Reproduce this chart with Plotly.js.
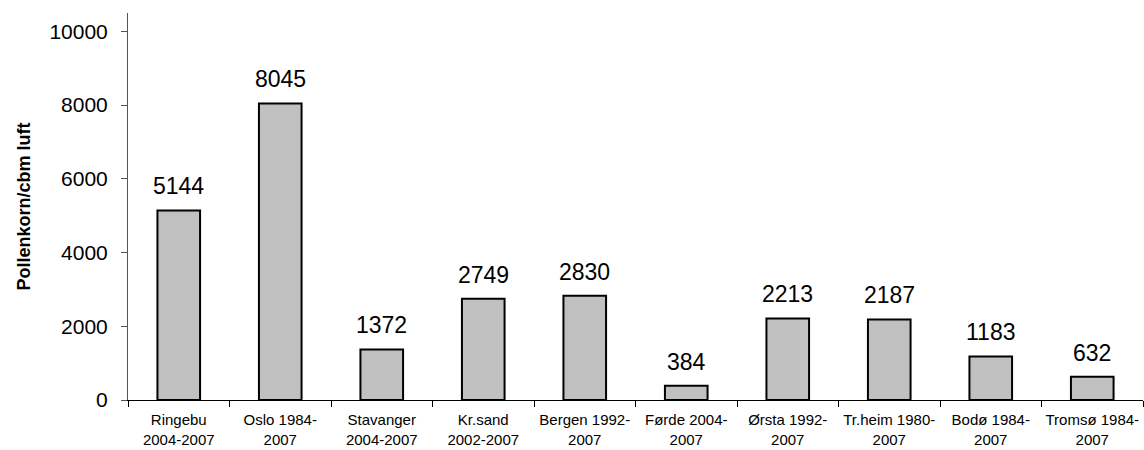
<!DOCTYPE html>
<html><head><meta charset="utf-8">
<script src="https://cdn.plot.ly/plotly-3.0.1.min.js"></script>
<style>body{margin:0;background:#fff}#c{width:1144px;height:450px}</style>
</head><body><div id="c"></div>
<script>
const categories = ["Ringebu<br>2004-2007","Oslo 1984-<br>2007","Stavanger<br>2004-2007","Kr.sand<br>2002-2007","Bergen 1992-<br>2007","Førde 2004-<br>2007","Ørsta 1992-<br>2007","Tr.heim 1980-<br>2007","Bodø 1984-<br>2007","Tromsø 1984-<br>2007"];
const values = [5144, 8045, 1372, 2749, 2830, 384, 2213, 2187, 1183, 632];
const yTicks = [0, 2000, 4000, 6000, 8000, 10000];
const yTickText = ["0", "2000", "4000", "6000", "8000", "10000"];

const font = "Arial, 'Liberation Sans', sans-serif";
const trace = {
  type: "bar", x: categories, y: values,
  marker: {color: "#c0c0c0", line: {color: "#000", width: 2}},
  hoverinfo: "none"
};
const annotations = categories.map((c, i) => ({
  x: c, y: values[i], xref: "x", yref: "y", text: String(values[i]),
  showarrow: false, yanchor: "bottom", yshift: 9,
  font: {family: font, size: 23, color: "#000"}
}));
const layout = {
  width: 1144, height: 450,
  margin: {l: 128, r: 1, t: 13, b: 50},
  paper_bgcolor: "#fff", plot_bgcolor: "#fff",
  showlegend: false, bargap: 0.58,
  font: {family: font, color: "#000"},
  xaxis: {
    type: "category", showgrid: false, zeroline: false, automargin: false,
    showline: true, linecolor: "#000", linewidth: 1, tickangle: 0,
    ticks: "outside", tickson: "boundaries", ticklen: 6, tickcolor: "#000",
    ticklabelstandoff: 6,
    tickfont: {family: font, size: 15, color: "#000"}
  },
  yaxis: {
    range: [0, 10500], tickvals: yTicks, ticktext: yTickText,
    showgrid: false, zeroline: false, automargin: false,
    showline: true, linecolor: "#555", linewidth: 1,
    ticks: "outside", ticklen: 6, tickcolor: "#555", ticklabelstandoff: 9,
    tickfont: {family: font, size: 21, color: "#000"},
    title: {text: "<b>Pollenkorn/cbm luft</b>", font: {family: font, size: 18, color: "#000"}, standoff: 14}
  },
  annotations: annotations
};
Plotly.newPlot("c", [trace], layout, {staticPlot: true});
</script></body></html>
